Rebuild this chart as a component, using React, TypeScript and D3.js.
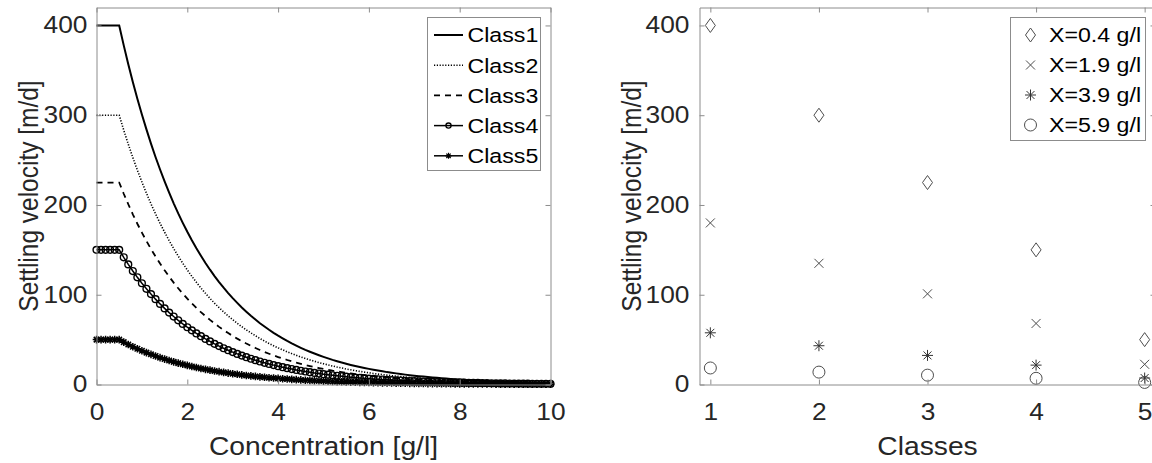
import React, { useEffect, useRef } from "react";
import * as d3 from "d3";

// concentration grid of the left plot [g/l]
const concentration = [
  0, 0.1, 0.2, 0.3, 0.4, 0.5, 0.6, 0.7, 0.8, 0.9,
  1, 1.1, 1.2, 1.3, 1.4, 1.5, 1.6, 1.7, 1.8, 1.9,
  2, 2.1, 2.2, 2.3, 2.4, 2.5, 2.6, 2.7, 2.8, 2.9,
  3, 3.1, 3.2, 3.3, 3.4, 3.5, 3.6, 3.7, 3.8, 3.9,
  4, 4.1, 4.2, 4.3, 4.4, 4.5, 4.6, 4.7, 4.8, 4.9,
  5, 5.1, 5.2, 5.3, 5.4, 5.5, 5.6, 5.7, 5.8, 5.9,
  6, 6.1, 6.2, 6.3, 6.4, 6.5, 6.6, 6.7, 6.8, 6.9,
  7, 7.1, 7.2, 7.3, 7.4, 7.5, 7.6, 7.7, 7.8, 7.9,
  8, 8.1, 8.2, 8.3, 8.4, 8.5, 8.6, 8.7, 8.8, 8.9,
  9, 9.1, 9.2, 9.3, 9.4, 9.5, 9.6, 9.7, 9.8, 9.9,
  10,
];

// settling velocity per class [m/d]
const class1 = [
  400, 400, 400, 400, 400,
  400, 377.8, 356.9, 337.1, 318.4, 300.8, 284.2, 268.4, 253.5, 239.5,
  226.2, 213.7, 201.8, 190.6, 180.1, 170.1, 160.7, 151.8, 143.4, 135.4,
  127.9, 120.8, 114.1, 107.8, 101.8, 96.2, 90.9, 85.8, 81.1, 76.6,
  72.4, 68.3, 64.6, 61.0, 57.6, 54.4, 51.4, 48.5, 45.8, 43.3,
  40.9, 38.6, 36.5, 34.5, 32.6, 30.8, 29.1, 27.4, 25.9, 24.5,
  23.1, 21.8, 20.6, 19.5, 18.4, 17.4, 16.4, 15.5, 14.7, 13.8,
  13.1, 12.4, 11.7, 11.0, 10.4, 9.8, 9.3, 8.8, 8.3, 7.8,
  7.4, 7.0, 6.6, 6.2, 5.9, 5.6, 5.2, 5.0, 4.7, 4.4,
  4.2, 4.0, 3.7, 3.5, 3.3, 3.2, 3.0, 2.8, 2.6, 2.5,
  2.4, 2.2, 2.1, 2.0, 1.9, 1.8,
];
const class2 = [
  300, 300, 300, 300, 300,
  300, 283.4, 267.7, 252.8, 238.8, 225.6, 213.1, 201.3, 190.1, 179.6,
  169.7, 160.3, 151.4, 143.0, 135.1, 127.6, 120.5, 113.9, 107.5, 101.6,
  95.9, 90.6, 85.6, 80.9, 76.4, 72.2, 68.2, 64.4, 60.8, 57.5,
  54.3, 51.2, 48.4, 45.7, 43.2, 40.8, 38.6, 36.4, 34.4, 32.5,
  30.7, 29.0, 27.4, 25.9, 24.4, 23.1, 21.8, 20.6, 19.4, 18.4,
  17.3, 16.4, 15.5, 14.6, 13.8, 13.1, 12.3, 11.6, 11.0, 10.4,
  9.8, 9.3, 8.8, 8.3, 7.8, 7.4, 7.0, 6.6, 6.2, 5.9,
  5.6, 5.3, 5.0, 4.7, 4.4, 4.2, 3.9, 3.7, 3.5, 3.3,
  3.2, 3.0, 2.8, 2.6, 2.5, 2.4, 2.2, 2.1, 2.0, 1.9,
  1.8, 1.7, 1.6, 1.5, 1.4, 1.3,
];
const class3 = [
  225, 225, 225, 225, 225,
  225, 212.5, 200.8, 189.6, 179.1, 169.2, 159.8, 151.0, 142.6, 134.7,
  127.2, 120.2, 113.5, 107.2, 101.3, 95.7, 90.4, 85.4, 80.6, 76.2,
  72.0, 68.0, 64.2, 60.6, 57.3, 54.1, 51.1, 48.3, 45.6, 43.1,
  40.7, 38.4, 36.3, 34.3, 32.4, 30.6, 28.9, 27.3, 25.8, 24.4,
  23.0, 21.7, 20.5, 19.4, 18.3, 17.3, 16.4, 15.4, 14.6, 13.8,
  13.0, 12.3, 11.6, 11.0, 10.4, 9.8, 9.2, 8.7, 8.3, 7.8,
  7.4, 7.0, 6.6, 6.2, 5.9, 5.5, 5.2, 4.9, 4.7, 4.4,
  4.2, 3.9, 3.7, 3.5, 3.3, 3.1, 2.9, 2.8, 2.6, 2.5,
  2.4, 2.2, 2.1, 2.0, 1.9, 1.8, 1.7, 1.6, 1.5, 1.4,
  1.3, 1.3, 1.2, 1.1, 1.1, 1.0,
];
const class4 = [
  150, 150, 150, 150, 150,
  150, 141.7, 133.8, 126.4, 119.4, 112.8, 106.6, 100.7, 95.1, 89.8,
  84.8, 80.1, 75.7, 71.5, 67.5, 63.8, 60.3, 56.9, 53.8, 50.8,
  48.0, 45.3, 42.8, 40.4, 38.2, 36.1, 34.1, 32.2, 30.4, 28.7,
  27.1, 25.6, 24.2, 22.9, 21.6, 20.4, 19.3, 18.2, 17.2, 16.2,
  15.3, 14.5, 13.7, 12.9, 12.2, 11.5, 10.9, 10.3, 9.7, 9.2,
  8.7, 8.2, 7.7, 7.3, 6.9, 6.5, 6.2, 5.8, 5.5, 5.2,
  4.9, 4.6, 4.4, 4.1, 3.9, 3.7, 3.5, 3.3, 3.1, 2.9,
  2.8, 2.6, 2.5, 2.3, 2.2, 2.1, 2.0, 1.9, 1.8, 1.7,
  1.6, 1.5, 1.4, 1.3, 1.2, 1.2, 1.1, 1.0, 1.0, 0.9,
  0.9, 0.8, 0.8, 0.7, 0.7, 0.7,
];
const class5 = [
  50, 50, 50, 50, 50,
  50, 47.2, 44.6, 42.1, 39.8, 37.6, 35.5, 33.6, 31.7, 29.9,
  28.3, 26.7, 25.2, 23.8, 22.5, 21.3, 20.1, 19.0, 17.9, 16.9,
  16.0, 15.1, 14.3, 13.5, 12.7, 12.0, 11.4, 10.7, 10.1, 9.6,
  9.0, 8.5, 8.1, 7.6, 7.2, 6.8, 6.4, 6.1, 5.7, 5.4,
  5.1, 4.8, 4.6, 4.3, 4.1, 3.8, 3.6, 3.4, 3.2, 3.1,
  2.9, 2.7, 2.6, 2.4, 2.3, 2.2, 2.1, 1.9, 1.8, 1.7,
  1.6, 1.5, 1.5, 1.4, 1.3, 1.2, 1.2, 1.1, 1.0, 1.0,
  0.9, 0.9, 0.8, 0.8, 0.7, 0.7, 0.7, 0.6, 0.6, 0.6,
  0.5, 0.5, 0.5, 0.4, 0.4, 0.4, 0.4, 0.4, 0.3, 0.3,
  0.3, 0.3, 0.3, 0.3, 0.2, 0.2,
];
const classNames = ["Class1", "Class2", "Class3", "Class4", "Class5"];

// right plot: velocity of each class at four concentrations
const classes = [1, 2, 3, 4, 5];
const vAt04 = [400, 300, 225, 150, 50];
const vAt19 = [180, 135, 101, 68, 22.5];
const vAt39 = [57.6, 43.2, 32.4, 21.6, 7.2];
const vAt59 = [18.4, 13.8, 10.4, 6.9, 2.3];
const concLabels = ["X=0.4 g/l", "X=1.9 g/l", "X=3.9 g/l", "X=5.9 g/l"];

const concTicks = [0, 2, 4, 6, 8, 10];
const velocityTicks = [0, 100, 200, 300, 400];

const FONT = "'Liberation Sans', Arial, Helvetica, sans-serif";
const TEXT = "#262626";
const AXIS = "#8c8c8c";
const MARK = "#4d4d4d";
const SX = 1.13; // the picture is a bit wider than tall, text too

// marker paths (MATLAB style)
const diamondPath = (cx, cy) =>
  `M${cx},${cy - 7}L${cx + 5},${cy}L${cx},${cy + 7}L${cx - 5},${cy}Z`;
const crossPath = (cx, cy, s) =>
  `M${cx - s},${cy - s}L${cx + s},${cy + s}M${cx - s},${cy + s}L${cx + s},${cy - s}`;
const asteriskPath = (cx, cy, s) => {
  const d = s * 0.72;
  return `M${cx - s},${cy}L${cx + s},${cy}M${cx},${cy - s}L${cx},${cy + s}` + crossPath(cx, cy, d);
};

function label(g, txt, x, y, size, opts = {}) {
  const t = g.append("text")
    .attr("transform", opts.rotate
      ? `translate(${x},${y}) rotate(-90) scale(1,${SX})`
      : `translate(${x},${y}) scale(${SX},1)`)
    .attr("text-anchor", opts.anchor || "middle")
    .attr("fill", opts.color || TEXT)
    .style("font-family", FONT)
    .style("font-size", size + "px")
    .text(txt);
  if (opts.dy) t.attr("dy", opts.dy);
  return t;
}

function drawAxes(g, x, y, xTicks, yTicks, padLeft) {
  const [x0, x1] = x.range();
  const [y0, y1] = y.range();

  const style = (sel) => {
    sel.select(".domain").attr("stroke", AXIS);
    sel.selectAll(".tick line").attr("stroke", AXIS);
    sel.selectAll(".tick text")
      .attr("fill", TEXT)
      .attr("transform", `scale(${SX},1)`)
      .style("font-family", FONT)
      .style("font-size", "23.3px");
  };

  g.append("g").attr("transform", `translate(0,${y0})`)
    .call(d3.axisBottom(x).tickValues(xTicks).tickSize(-5).tickSizeOuter(0).tickPadding(19).tickFormat(d3.format("d")))
    .call(style);
  g.append("g").attr("transform", `translate(0,${y1})`)
    .call(d3.axisTop(x).tickValues(xTicks).tickSize(-5).tickSizeOuter(0).tickFormat(() => ""))
    .call(style);
  g.append("g").attr("transform", `translate(${x0},0)`)
    .call(d3.axisLeft(y).tickValues(yTicks).tickSize(-5).tickSizeOuter(0).tickPadding(padLeft / SX))
    .call(style);
  g.append("g").attr("transform", `translate(${x1},0)`)
    .call(d3.axisRight(y).tickValues(yTicks).tickSize(-5).tickSizeOuter(0).tickFormat(() => ""))
    .call(style);
}

const App = () => {
  const ref = useRef(null);

  useEffect(() => {
    const svg = d3.select(ref.current);
    svg.selectAll("*").remove();

    // ---------- left: velocity vs concentration ----------
    const xL = d3.scaleLinear().domain([0, 10]).range([96.5, 550.5]);
    const y = d3.scaleLinear().domain([0, 420]).range([384.5, 7.5]);
    const left = svg.append("g");

    const series = [class1, class2, class3, class4, class5];
    const dashes = [null, "1.2 1.6", "6 5", null, null];
    const widths = [2, 1.6, 1.8, 1.5, 1.5];
    const line = d3.line().x((d) => xL(d[0])).y((d) => y(d[1]));

    series.forEach((vals, i) => {
      const pts = concentration.map((c, j) => [c, vals[j]]);
      left.append("path")
        .datum(pts)
        .attr("d", line)
        .attr("fill", "none")
        .attr("stroke", "#000")
        .attr("stroke-width", widths[i])
        .attr("stroke-dasharray", dashes[i]);
      if (i === 3) {
        left.append("g").selectAll("circle").data(pts).join("circle")
          .attr("cx", (d) => xL(d[0])).attr("cy", (d) => y(d[1])).attr("r", 3.4)
          .attr("fill", "none").attr("stroke", "#000").attr("stroke-width", 1.4);
      }
      if (i === 4) {
        left.append("g").selectAll("path").data(pts).join("path")
          .attr("d", (d) => asteriskPath(xL(d[0]), y(d[1]), 3.8))
          .attr("fill", "none").attr("stroke", "#000").attr("stroke-width", 1.5);
      }
    });

    drawAxes(left, xL, y, concTicks, velocityTicks, 9);

    label(left, "Concentration [g/l]", (xL.range()[0] + xL.range()[1]) / 2, 455, 25);
    label(left, "Settling velocity [m/d]", 38, 196, 24.5, { rotate: true });

    // left legend
    const legL = left.append("g");
    legL.append("rect").attr("x", 427.5).attr("y", 17.5).attr("width", 113).attr("height", 153)
      .attr("fill", "#fff").attr("stroke", AXIS);
    classNames.forEach((name, i) => {
      const cy = 35 + i * 30.2;
      legL.append("line").attr("x1", 434).attr("x2", 463).attr("y1", cy).attr("y2", cy)
        .attr("stroke", "#000").attr("stroke-width", widths[i]).attr("stroke-dasharray", dashes[i]);
      if (i === 3) {
        legL.append("circle").attr("cx", 448.5).attr("cy", cy).attr("r", 2.6)
          .attr("fill", "none").attr("stroke", "#000").attr("stroke-width", 1.3);
      }
      if (i === 4) {
        legL.append("path").attr("d", asteriskPath(448.5, cy, 3))
          .attr("fill", "none").attr("stroke", "#000").attr("stroke-width", 1.2);
      }
      label(legL, name, 467.5, cy, 20.5, { anchor: "start", color: "#000", dy: "0.36em" });
    });

    // ---------- right: velocity per class ----------
    const xR = d3.scaleLinear().domain([0.9, 5.1]).range([699.5, 1155.5]);
    const right = svg.append("g");

    const markerSets = [vAt04, vAt19, vAt39, vAt59];
    const drawMarker = (gg, kind, cx, cy) => {
      if (kind === 0) {
        gg.append("path").attr("d", diamondPath(cx, cy)).attr("fill", "none").attr("stroke", MARK);
      } else if (kind === 1) {
        gg.append("path").attr("d", crossPath(cx, cy, 4.5)).attr("fill", "none").attr("stroke", MARK);
      } else if (kind === 2) {
        gg.append("path").attr("d", asteriskPath(cx, cy, 5.5)).attr("fill", "none").attr("stroke", "#333");
      } else {
        gg.append("circle").attr("cx", cx).attr("cy", cy).attr("r", 6)
          .attr("fill", "none").attr("stroke", MARK);
      }
    };

    markerSets.forEach((vals, k) => {
      classes.forEach((c, j) => drawMarker(right, k, xR(c), y(vals[j])));
    });

    drawAxes(right, xR, y, classes, velocityTicks, 10);

    label(right, "Classes", xR(3), 455, 25);
    label(right, "Settling velocity [m/d]", 641, 196, 24.5, { rotate: true });

    // right legend
    const legR = right.append("g");
    legR.append("rect").attr("x", 1010.5).attr("y", 17.5).attr("width", 135).attr("height", 123)
      .attr("fill", "#fff").attr("stroke", AXIS);
    concLabels.forEach((lab, k) => {
      const cy = 35 + k * 30;
      drawMarker(legR, k, 1030.5, cy);
      label(legR, lab, 1049, cy, 20.5, { anchor: "start", color: "#000", dy: "0.36em" });
    });
  }, []);

  return (
    <svg
      ref={ref}
      width={1152}
      height={463}
      style={{ position: "absolute", left: 0, top: 0, background: "#fff", display: "block" }}
    />
  );
};

export default App;
